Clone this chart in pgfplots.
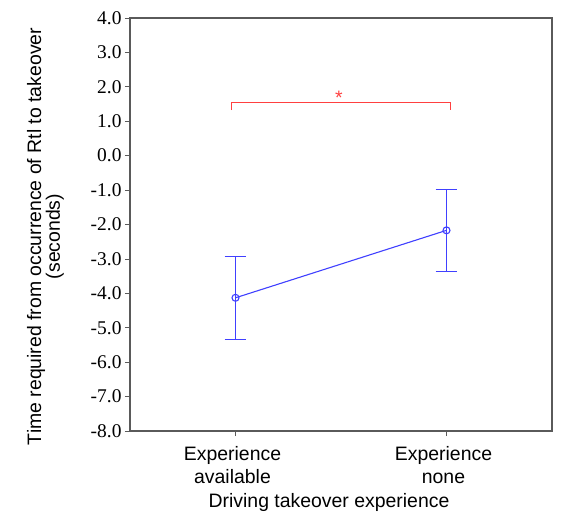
\documentclass[border=0pt]{standalone}
\usepackage{fontspec}
\setmainfont{Liberation Sans}
\newfontfamily\tickserif{Liberation Serif}
\usepackage{pgfplots}
\pgfplotsset{compat=1.18}
\definecolor{errblue}{RGB}{64,64,255}
\definecolor{sigred}{RGB}{255,64,64}
\definecolor{axgray}{RGB}{90,90,90}

\begin{document}
\begin{tikzpicture}
\path[use as bounding box] (-130bp,-81bp) rectangle (436bp,431bp);
\begin{axis}[
  at={(0,0)}, anchor=south west,
  scale only axis, width=422bp, height=413bp,
  xmin=0.5, xmax=2.5, ymin=-8, ymax=4,
  xtick={1,2},
  xticklabels={{Experience\\available},{Experience\\none}},
  ytick={-8,-7,...,4},
  tick align=outside, tick pos=left,
  major tick length=5bp,
  axis line style={axgray, line width=1.2bp},
  every tick/.style={axgray, line width=0.8bp},
  /pgf/number format/assume math mode=true,
  yticklabel style={font=\tickserif\fontsize{19.5}{19.5}\selectfont,
    /pgf/number format/fixed, /pgf/number format/fixed zerofill,
    /pgf/number format/precision=1},
  xticklabel style={font=\fontsize{19.5}{23.4}\selectfont, align=center,
    yshift=-7bp, xshift=-3bp},
  ylabel={Time required from occurrence of Rtl to takeover\\(seconds)},
  ylabel style={font=\fontsize{19.5}{19}\selectfont, align=center,
    at={(axis description cs:-0.156,0.471)}, anchor=south, inner sep=0pt},
  xlabel={Driving takeover experience},
  xlabel style={font=\fontsize{19.5}{19.5}\selectfont,
    at={(axis description cs:0.4716,-0.185)}, anchor=base, inner sep=0pt},
]
% means with error bars
\addplot[errblue, line width=1.1bp, mark=o, mark size=3.5bp,
  error bars/.cd, y dir=both, y explicit, error mark=none,
  error bar style={draw=errblue, line width=1.1bp}]
  coordinates {
    (1,-4.13) +- (0,1.20)
    (2,-2.17) +- (0,1.19)
  };
% error bar caps at mean +- error
\addplot[errblue, line width=1.1bp] coordinates {(0.948,-2.93) (1.052,-2.93)};
\addplot[errblue, line width=1.1bp] coordinates {(0.948,-5.33) (1.052,-5.33)};
\addplot[errblue, line width=1.1bp] coordinates {(1.948,-0.98) (2.052,-0.98)};
\addplot[errblue, line width=1.1bp] coordinates {(1.948,-3.36) (2.052,-3.36)};
% significance bracket
\addplot[sigred, line width=1.3bp] coordinates {
  (0.98,1.32) (0.98,1.54) (2.02,1.54) (2.02,1.32)
};
\node[sigred, font=\fontsize{19.5}{19.5}\selectfont, inner sep=0pt, anchor=base]
  at (axis cs:1.49,1.50) {*};
\end{axis}
\end{tikzpicture}
\end{document}
